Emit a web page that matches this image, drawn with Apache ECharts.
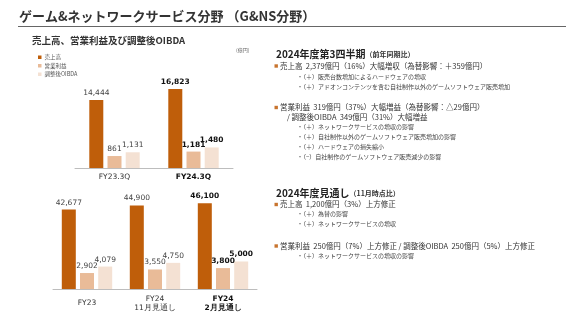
<!DOCTYPE html>
<html>
<head>
<meta charset="utf-8">
<script src="https://cdn.jsdelivr.net/npm/echarts@6/dist/echarts.min.js"></script>
<style>
  html, body { margin: 0; padding: 0; background: #fff; }
  #chart { width: 584px; height: 328px; }
</style>
</head>
<body>
<div id="chart"></div>
<script>
// Q3 results (億円)
const topCategories = ['FY23.3Q', 'FY24.3Q'];
const topSales = [14444, 16823];
const topOpIncome = [861, 1181];
const topOibda = [1131, 1480];

// Full-year forecast (億円)
const bottomCategories = ['FY23', 'FY24\n11月見通し', 'FY24\n2月見通し'];
const bottomSales = [42677, 44900, 46100];
const bottomOpIncome = [2902, 3550, 3800];
const bottomOibda = [4079, 4750, 5000];

const seriesNames = ['売上高', '営業利益', '調整後OIBDA'];
const topHighlight = 1;
const bottomHighlight = 2;

// Commentary text
const q3Heading = '2024年度第3四半期';
const q3HeadingNote = '（前年同期比）';
const q3SalesLine = '売上高  2,379億円（16%）大幅増収（為替影響：＋359億円）';
const q3SalesNotes = ['・（＋）販売台数増加によるハードウェアの増収', '・（＋）アドオンコンテンツを含む自社制作以外のゲームソフトウェア販売増加'];
const q3OpLine = '営業利益  319億円（37%）大幅増益（為替影響：△29億円）';
const q3OibdaLine = '/ 調整後OIBDA  349億円（31%）大幅増益';
const q3OpNotes = ['・（＋）ネットワークサービスの増収の影響', '・（＋）自社制作以外のゲームソフトウェア販売増加の影響', '・（＋）ハードウェアの損失縮小', '・（−）自社制作のゲームソフトウェア販売減少の影響'];
const fyHeading = '2024年度見通し';
const fyHeadingNote = '（11月時点比）';
const fySalesLine = '売上高  1,200億円（3%）上方修正';
const fySalesNotes = ['・（＋）為替の影響', '・（＋）ネットワークサービスの増収'];
const fyOpLine = '営業利益  250億円（7%）上方修正 / 調整後OIBDA  250億円（5%）上方修正';
const fyOpNotes = ['・（＋）ネットワークサービスの増収の影響'];

const COLORS = ['#BF5E0A', '#E9BB98', '#F4E1D3'];
const JP = '"Noto Sans CJK JP", "Noto Sans", sans-serif';
const NUM = '"DejaVu Sans", sans-serif';

const fmt = v => v.toLocaleString('en-US');

function items(values, hi) {
  return values.map((v, i) => i === hi
    ? { value: v, label: { fontWeight: 'bold', color: '#111' } }
    : v);
}

function barSeries(name, values, hi, xi, yi, colorIdx) {
  return {
    type: 'bar', name, xAxisIndex: xi, yAxisIndex: yi,
    data: items(values, hi),
    barWidth: 14, barGap: '30%',
    itemStyle: { color: COLORS[colorIdx] },
    label: {
      show: true, position: 'top', distance: 3,
      fontFamily: NUM, fontSize: 7.5, color: '#444',
      formatter: p => fmt(p.value)
    },
    emphasis: { disabled: true },
    animation: false
  };
}

function catAxis(grid, cats, hi, margin, singlePad) {
  const pad = [singlePad || 0, 0, 0, 0];
  return {
    type: 'category', gridIndex: grid, data: cats,
    axisLine: { lineStyle: { color: '#BDBDBD', width: 1 } },
    axisTick: { show: false },
    axisLabel: {
      interval: 0, hideOverlap: false,
      margin, fontFamily: NUM, fontSize: 7.5, color: '#333', lineHeight: 8.5,
      formatter: (v, i) => {
        const lines = v.split('\n');
        const st = (i === hi ? 'b' : 'n') + (lines.length === 1 && singlePad ? 'p' : '');
        return lines.map(l => '{' + st + '|' + l + '}').join('\n');
      },
      rich: {
        n: { fontFamily: NUM, fontSize: 7.5, color: '#333', lineHeight: 8.5 },
        b: { fontFamily: NUM, fontSize: 7.5, color: '#111', fontWeight: 'bold', lineHeight: 8.5 },
        np: { fontFamily: NUM, fontSize: 7.5, color: '#333', lineHeight: 8.5, padding: pad },
        bp: { fontFamily: NUM, fontSize: 7.5, color: '#111', fontWeight: 'bold', lineHeight: 8.5, padding: pad }
      }
    }
  };
}

function valAxis(grid, max) {
  return { type: 'value', gridIndex: grid, min: 0, max, show: false, splitLine: { show: false } };
}

function txt(x, y, text, size, color, weight) {
  return {
    type: 'text', silent: true,
    style: {
      x, y, text, fill: color || '#333',
      font: (weight || 'normal') + ' ' + size + 'px ' + JP,
      verticalAlign: 'middle'
    }
  };
}

function bullet(x, y) {
  return { type: 'rect', silent: true, shape: { x: x, y: y - 1.7, width: 3.4, height: 3.4 }, style: { fill: '#C8742E' } };
}

function heading(x, y, main, note) {
  return {
    type: 'text', silent: true,
    style: {
      x, y, text: '{a|' + main + '}{b|' + note + '}',
      verticalAlign: 'middle',
      rich: {
        a: { fontFamily: JP, fontSize: 10, fontWeight: 'bold', fill: '#222' },
        b: { fontFamily: JP, fontSize: 7, fontWeight: 'bold', fill: '#333' }
      }
    }
  };
}

const graphics = [
  txt(19, 16, 'ゲーム&ネットワークサービス分野 （G&NS分野）', 13, '#333', 'bold'),
  { type: 'rect', silent: true, shape: { x: 18, y: 26, width: 548, height: 1 }, style: { fill: '#666' } },
  txt(32, 40.5, '売上高、営業利益及び調整後OIBDA', 9.5, '#333', 'bold'),
  txt(236, 50, '(億円)', 5, '#666'),

  heading(276, 54, q3Heading, q3HeadingNote),
  bullet(274.5, 66), txt(280, 66, q3SalesLine, 7.5, '#333'),
  txt(297, 76.5, q3SalesNotes[0], 6, '#444'),
  txt(297, 86.5, q3SalesNotes[1], 6, '#444'),
  bullet(274.5, 107.5), txt(280, 107.5, q3OpLine, 7.5, '#333'),
  txt(287, 117, q3OibdaLine, 7.5, '#333'),
  ...q3OpNotes.map((t, i) => txt(297, 127 + i * 10, t, 6, '#444')),

  heading(276, 193, fyHeading, fyHeadingNote),
  bullet(274.5, 204.5), txt(280, 204.5, fySalesLine, 7.5, '#333'),
  ...fySalesNotes.map((t, i) => txt(297, 214 + i * 9.5, t, 6, '#444')),
  bullet(274.5, 246), txt(280, 246, fyOpLine, 7.5, '#333'),
  ...fyOpNotes.map((t, i) => txt(297, 255.5 + i * 9.5, t, 6, '#444'))
];

const chart = echarts.init(document.getElementById('chart'), null, { renderer: 'canvas' });
chart.setOption({
  animation: false,
  backgroundColor: '#fff',
  legend: {
    orient: 'vertical', left: 33, top: 49.5,
    itemWidth: 3.5, itemHeight: 3.5, itemGap: 3, icon: 'rect',
    data: seriesNames,
    textStyle: { fontFamily: JP, fontSize: 5.5, color: '#555', padding: [0, 0, 0, -2] },
    selectedMode: false
  },
  grid: [
    { left: 75, top: 74, width: 158, height: 94 },
    { left: 53, top: 196, width: 204, height: 93 }
  ],
  xAxis: [
    catAxis(0, topCategories, topHighlight, 5),
    catAxis(1, bottomCategories, bottomHighlight, 6, 7)
  ],
  yAxis: [
    valAxis(0, 20000), valAxis(0, 6760),
    valAxis(1, 50000), valAxis(1, 16900)
  ],
  series: [
    barSeries(seriesNames[0], topSales, topHighlight, 0, 0, 0),
    barSeries(seriesNames[1], topOpIncome, topHighlight, 0, 1, 1),
    barSeries(seriesNames[2], topOibda, topHighlight, 0, 1, 2),
    barSeries(seriesNames[0], bottomSales, bottomHighlight, 1, 2, 0),
    barSeries(seriesNames[1], bottomOpIncome, bottomHighlight, 1, 3, 1),
    barSeries(seriesNames[2], bottomOibda, bottomHighlight, 1, 3, 2)
  ],
  graphic: graphics
});
</script>
</body>
</html>
